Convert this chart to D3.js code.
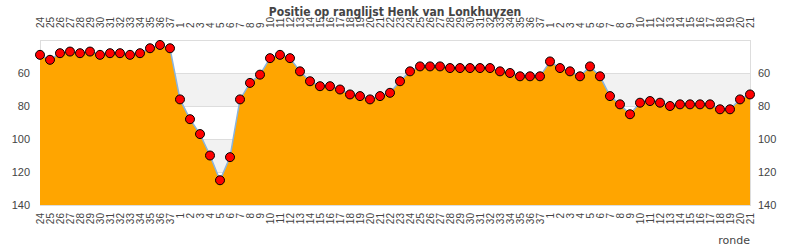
<!DOCTYPE html>
<html>
<head>
<meta charset="utf-8">
<script src="https://cdn.jsdelivr.net/npm/d3@7"></script>
<style>
    body { margin: 0; background: #fff; }
    svg { font-family: "DejaVu Sans", sans-serif; }
    .tick text { fill: #444; }
    .chart-title { font-family: "DejaVu Sans Condensed", "DejaVu Sans", sans-serif; font-weight: bold; font-size: 12px; fill: #444; }
</style>
</head>
<body>
<svg width="790" height="250"></svg>
<script>
const rondes = [24, 25, 26, 27, 28, 29, 30, 31, 32, 33, 34, 35, 36, 37,
    1, 2, 3, 4, 5, 6, 7, 8, 9, 10, 11, 12, 13, 14, 15, 16, 17, 18, 19, 20,
    21, 22, 23, 24, 25, 26, 27, 28, 29, 30, 31, 32, 33, 34, 35, 36, 37,
    1, 2, 3, 4, 5, 6, 7, 8, 9, 10, 11, 12, 13, 14, 15, 16, 17, 18, 19, 20, 21];

const positie = [49, 52, 48, 47, 48, 47, 49, 48, 48, 49, 48, 45, 43, 45,
    76, 88, 97, 110, 125, 111, 76, 66, 61, 51, 49, 51, 59, 65, 68, 68,
    70, 73, 74, 76, 74, 72, 65, 59, 56, 56, 56, 57, 57, 57, 57, 57,
    59, 60, 62, 62, 62, 53, 57, 59, 62, 56, 62, 74, 79, 85, 78, 77,
    78, 80, 79, 79, 79, 79, 82, 82, 76, 73];

const yTicks = [60, 80, 100, 120, 140];
const bands = [[60, 80], [100, 120]];

const svg = d3.select("svg");
const width = 790;
const height = 250;
const margin = { top: 40, right: 40, bottom: 45, left: 40 };

const data = positie.map((v, i) => ({ i: i, ronde: rondes[i], pos: v }));

const xScale = d3.scalePoint()
    .domain(d3.range(rondes.length))
    .range([margin.left, width - margin.right]);

const yScale = d3.scaleLinear()
    .domain([40, 140])
    .range([margin.top, height - margin.bottom]);

// achtergrond banden
svg.selectAll("rect.band")
    .data(bands)
    .enter().append("rect")
    .attr("x", margin.left)
    .attr("width", width - margin.left - margin.right)
    .attr("y", d => yScale(d[0]))
    .attr("height", d => yScale(d[1]) - yScale(d[0]))
    .attr("fill", "#f2f2f2");

svg.selectAll("line.grid")
    .data(yTicks.slice(0, -1))
    .enter().append("line")
    .attr("x1", margin.left)
    .attr("x2", width - margin.right)
    .attr("y1", d => yScale(d) + 0.5)
    .attr("y2", d => yScale(d) + 0.5)
    .attr("stroke", "#ddd");

svg.append("rect")
    .attr("x", margin.left + 0.5)
    .attr("y", margin.top + 0.5)
    .attr("width", width - margin.left - margin.right)
    .attr("height", height - margin.top - margin.bottom)
    .attr("fill", "none")
    .attr("stroke", "#ddd");

const area = d3.area()
    .x(d => xScale(d.i))
    .y0(yScale(140))
    .y1(d => yScale(d.pos));

const line = d3.line()
    .x(d => xScale(d.i))
    .y(d => yScale(d.pos));

svg.append("path")
    .datum(data)
    .attr("d", area)
    .attr("fill", "#ffa500");

svg.append("path")
    .datum(data)
    .attr("d", line)
    .attr("fill", "none")
    .attr("stroke", "#88b4e0")
    .attr("stroke-width", 1.5);

svg.selectAll("circle")
    .data(data)
    .enter().append("circle")
    .attr("cx", d => xScale(d.i))
    .attr("cy", d => yScale(d.pos))
    .attr("r", 4.5)
    .attr("fill", "#ff0000")
    .attr("stroke", "#000")
    .attr("stroke-width", 1);

// assen
const fmtRonde = i => rondes[i];

const xTop = svg.append("g")
    .attr("transform", `translate(0, 28)`)
    .call(d3.axisTop(xScale).tickSize(0).tickPadding(0).tickFormat(fmtRonde));
xTop.selectAll("text")
    .attr("transform", "rotate(-90)")
    .attr("x", 0)
    .attr("y", 0)
    .attr("dy", "0.35em")
    .style("text-anchor", "start")
    .style("font-size", "10px");

const xBottom = svg.append("g")
    .attr("transform", `translate(0, 213)`)
    .call(d3.axisBottom(xScale).tickSize(0).tickPadding(0).tickFormat(fmtRonde));
xBottom.selectAll("text")
    .attr("transform", "rotate(-90)")
    .attr("x", 0)
    .attr("y", 0)
    .attr("dy", "0.35em")
    .style("text-anchor", "end")
    .style("font-size", "10px");

const yLeft = svg.append("g")
    .attr("transform", `translate(${margin.left}, 0)`)
    .call(d3.axisLeft(yScale).tickValues(yTicks).tickSize(0).tickPadding(10));
yLeft.selectAll("text").style("font-size", "11px");

const yRight = svg.append("g")
    .attr("transform", `translate(${width - margin.right}, 0)`)
    .call(d3.axisRight(yScale).tickValues(yTicks).tickSize(0).tickPadding(8));
yRight.selectAll("text").style("font-size", "11px");

svg.selectAll(".domain").remove();

svg.append("text")
    .attr("x", width / 2)
    .attr("y", 16)
    .attr("text-anchor", "middle")
    .attr("class", "chart-title")
    .text("Positie op ranglijst Henk van Lonkhuyzen");

svg.append("text")
    .attr("x", width - margin.right)
    .attr("y", 244)
    .attr("text-anchor", "end")
    .style("font-size", "11px")
    .style("fill", "#444")
    .text("ronde");
</script>
</body>
</html>
